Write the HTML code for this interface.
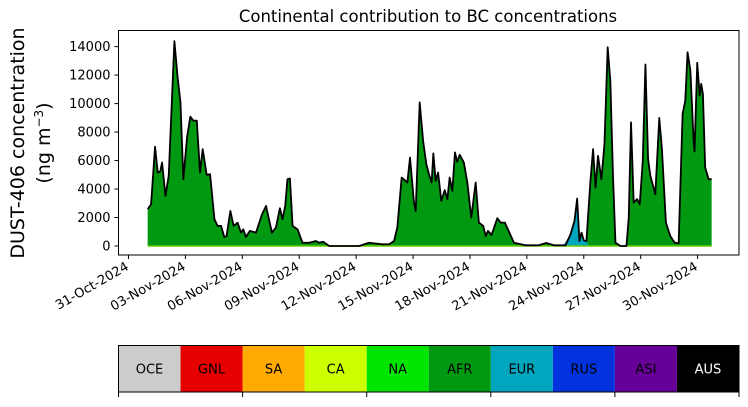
<!DOCTYPE html>
<html><head><meta charset="utf-8"><style>
body{margin:0;background:#fff;}
svg text{font-family:"DejaVu Sans","Liberation Sans",sans-serif;}
</style></head><body>
<svg id="c" width="748" height="402" xmlns="http://www.w3.org/2000/svg"></svg>
<script>
// days since 31-Oct-2024, values in ng m-3
const days = [1.01,1.19,1.40,1.54,1.67,1.77,1.95,2.12,2.42,2.59,2.74,2.89,3.09,3.26,3.42,3.60,3.77,3.91,4.12,4.30,4.53,4.70,4.88,5.05,5.17,5.37,5.54,5.75,5.93,6.05,6.19,6.40,6.72,7.04,7.25,7.56,7.77,7.98,8.12,8.26,8.38,8.51,8.65,8.91,9.17,9.53,9.88,10.05,10.26,10.58,12.16,12.68,13.39,13.74,14.0,14.17,14.40,14.70,14.84,15.05,15.14,15.35,15.53,15.70,15.84,15.98,16.07,16.19,16.32,16.49,16.67,16.81,16.93,17.07,17.21,17.33,17.46,17.68,17.86,18.07,18.30,18.47,18.70,18.83,18.95,19.14,19.44,19.62,19.84,20.32,20.93,21.63,22.02,22.42,23.04,23.30,23.51,23.65,23.77,23.88,24.0,24.14,24.35,24.49,24.62,24.75,24.93,25.09,25.26,25.40,25.54,25.67,25.93,26.25,26.37,26.49,26.63,26.81,26.95,27.11,27.25,27.39,27.51,27.63,27.77,27.98,28.12,28.33,28.56,28.79,29.0,29.21,29.35,29.47,29.62,29.79,29.84,29.98,30.11,30.19,30.28,30.40,30.58,30.74];
const totalValues = [2580,2930,6970,5160,5230,5860,3520,4930,14380,11840,10080,4690,7670,9080,8800,8800,5160,6800,5000,5040,1880,1410,1410,630,700,2460,1410,1640,940,1170,630,1060,940,2230,2810,940,1290,2650,1880,2810,4690,4740,1410,1170,230,230,350,230,300,0,0,230,120,120,350,1290,4810,4460,6210,3050,2460,10080,7390,5750,5040,4460,6500,4570,5160,3170,3920,3290,4810,3870,6570,5910,6400,5860,4460,1990,4460,1640,1410,700,1060,770,1950,1640,1640,230,50,50,210,50,50,820,1760,3330,350,940,400,350,4570,6800,4100,6330,4690,7160,13950,11610,4930,230,0,0,1990,8680,3050,3290,2930,5980,12740,6100,4930,4340,3640,8990,6800,1640,700,230,190,9270,10200,13600,12320,7390,6640,12860,10560,11380,10680,5510,4690,4690];
const eurDays = [22.9,23.30,23.51,23.65,23.77,23.88,24.0,24.14,24.3];
const eurValues = [0,820,1760,3000,350,900,400,300,0];
const yTicks = [0,2000,4000,6000,8000,10000,12000,14000];
const xTickDays = [0,3,6,9,12,15,18,21,24,27,30];
const xTickLabels = ["31-Oct-2024","03-Nov-2024","06-Nov-2024","09-Nov-2024","12-Nov-2024","15-Nov-2024","18-Nov-2024","21-Nov-2024","24-Nov-2024","27-Nov-2024","30-Nov-2024"];
const regions = ["OCE","GNL","SA","CA","NA","AFR","EUR","RUS","ASI","AUS"];
const regionColors = ["#cccccc","#e60000","#ffaa00","#ccff00","#00e600","#009911","#00a5be","#0033dd","#660099","#000000"];

const NS="http://www.w3.org/2000/svg";
const svg=document.getElementById('c');
function el(t,a,p){const e=document.createElementNS(NS,t);for(const k in a)e.setAttribute(k,a[k]);(p||svg).appendChild(e);return e;}
const L=118.5,R=739,T=30.5,B=255;
const xs=d=>128.5+d*18.97;
const ys=v=>246-v*0.014243;

let d='M'+xs(days[0])+','+ys(0);
days.forEach((t,i)=>d+=' L'+xs(t)+','+ys(totalValues[i]));
d+=' L'+xs(days[days.length-1])+','+ys(0)+' Z';
const area=el('path',{d:d,fill:'#009911',stroke:'none'});


let de='M'+xs(eurDays[0])+','+ys(0);
eurDays.forEach((t,i)=>de+=' L'+xs(t)+','+ys(eurValues[i]));
de+=' Z';
const eur=el('path',{d:de,fill:'#00a5be'});


const base=el('line',{x1:xs(days[0]),x2:xs(days[days.length-1]),y1:ys(0),y2:ys(0),stroke:'#66cc00','stroke-width':1.5});


let dl='';
days.forEach((t,i)=>dl+=(i?' L':'M')+xs(t)+','+ys(totalValues[i]));
const line=el('path',{d:dl,fill:'none',stroke:'#000','stroke-width':1.8,'stroke-linejoin':'round'});



const fr=el('rect',{x:L,y:T,width:R-L,height:B-T,fill:'none',stroke:'#000','stroke-width':1});


yTicks.forEach(v=>{
  el('line',{x1:L,x2:L-4,y1:ys(v),y2:ys(v),stroke:'#000'});
  const t=el('text',{x:L-8,y:ys(v)+4.5,'text-anchor':'end','font-size':13});
  t.textContent=v;
  
  
});
xTickDays.forEach((dd,i)=>{
  const x=xs(dd);
  el('line',{x1:x,x2:x,y1:B,y2:B+4,stroke:'#000'});
  const t=el('text',{x:x+1,y:B+14,'text-anchor':'end','font-size':13,transform:'rotate(-30 '+(x+1)+' '+(B+14)+')'});
  t.textContent=xTickLabels[i];
  
  
});
const title=el('text',{x:428,y:22,'text-anchor':'middle','font-size':16.5});
title.textContent='Continental contribution to BC concentrations';


const yl=el('text',{transform:'translate(24,143) rotate(-90)','text-anchor':'middle','font-size':19});
yl.textContent='DUST-406 concentration';


const yl2=el('text',{transform:'translate(50,143) rotate(-90)','text-anchor':'middle','font-size':19});
yl2.innerHTML='(ng m<tspan font-size="12" dy="-7">−3</tspan><tspan dy="7">)</tspan>';



const cw=(R-L)/regions.length;
regions.forEach((r,i)=>{
  const x=L+i*cw;
  const c=el('rect',{x:x,y:345.5,width:cw,height:46.5,fill:regionColors[i]});
  
  
  const t=el('text',{x:x+cw/2,y:373.5,'text-anchor':'middle','font-size':13,fill:i==9?'#fff':'#000'});
  t.textContent=r;
  
  
});
el('rect',{x:L,y:345.5,width:R-L,height:46.5,fill:'none',stroke:'#000'});
for(let i=0;i<=regions.length;i+=2){el('line',{x1:L+i*cw,x2:L+i*cw,y1:392,y2:397,stroke:'#000'});}
</script>
</body></html>
